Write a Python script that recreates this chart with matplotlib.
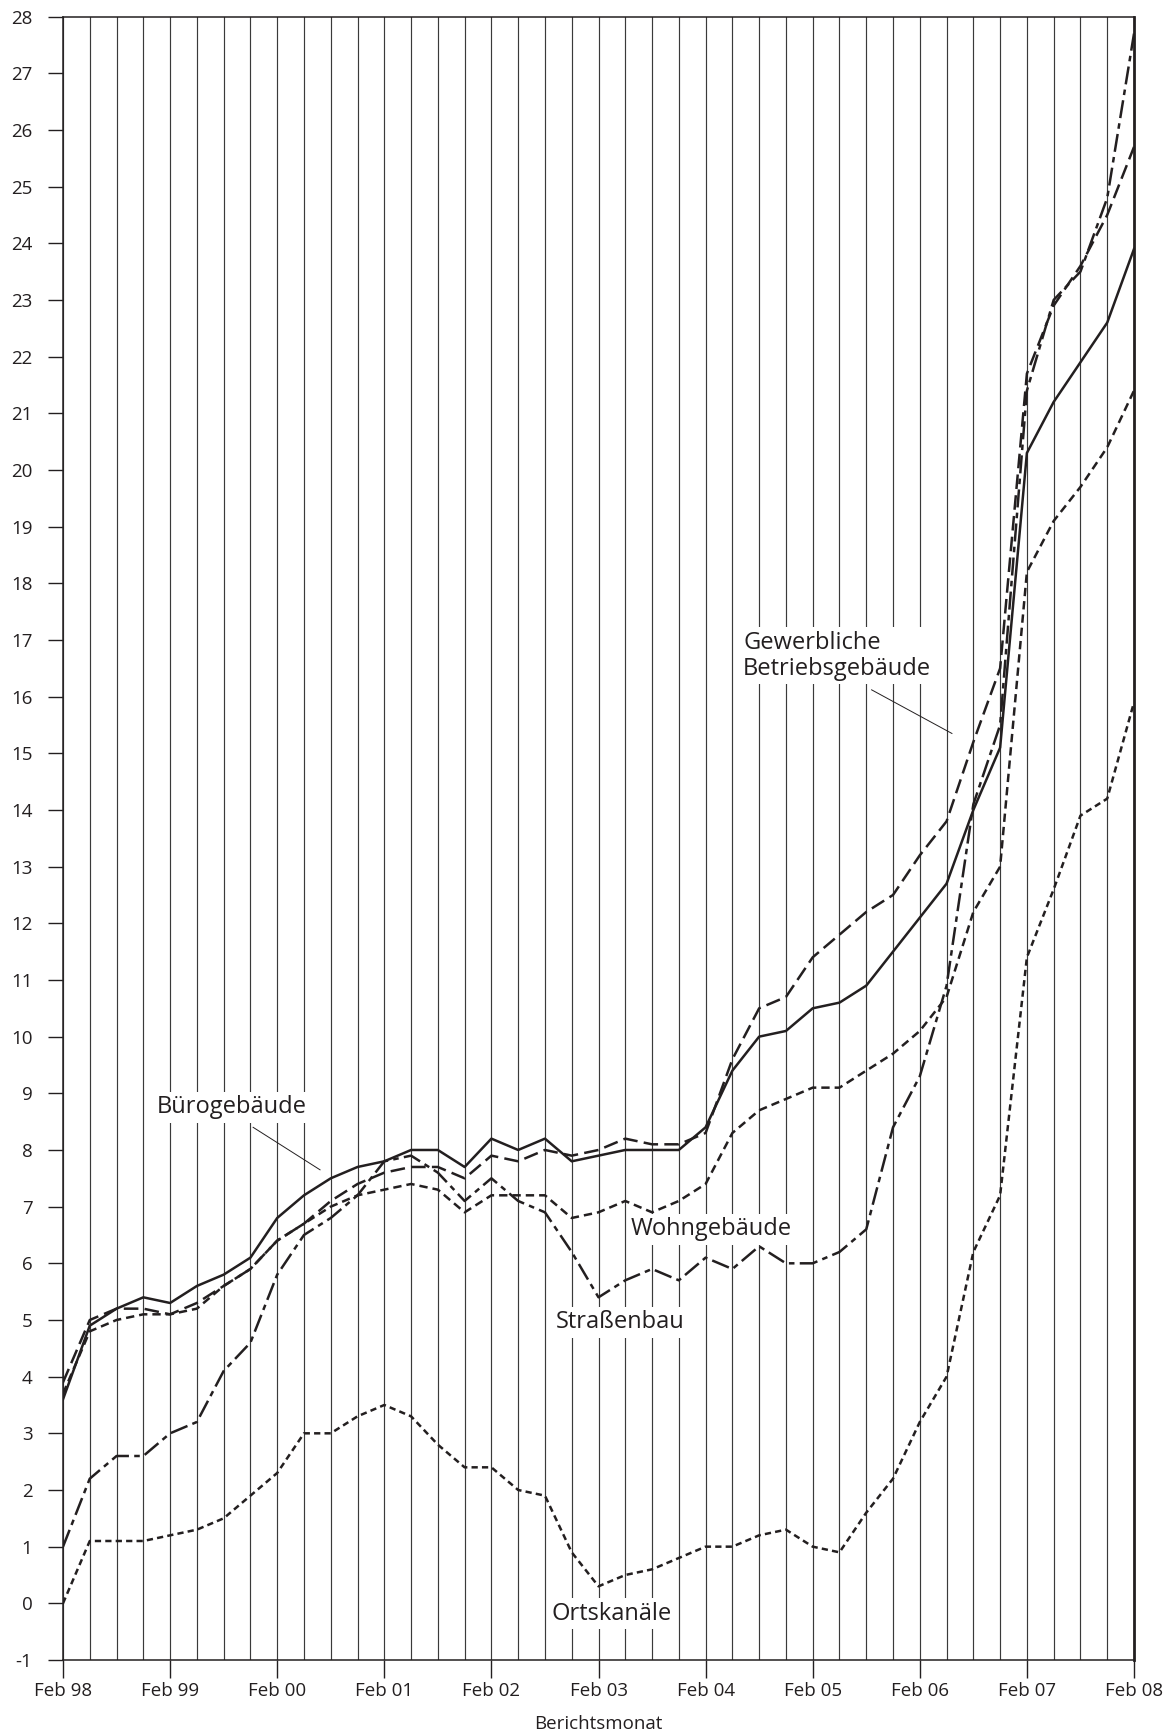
import matplotlib
matplotlib.use("Agg")
import matplotlib.pyplot as plt

plt.rcParams['font.family'] = ['Open Sans', 'DejaVu Sans']
plt.rcParams['axes.unicode_minus'] = False
plt.rcParams['lines.scale_dashes'] = False

# ---------------- data ----------------
year_labels = ['Feb 98', 'Feb 99', 'Feb 00', 'Feb 01', 'Feb 02', 'Feb 03',
               'Feb 04', 'Feb 05', 'Feb 06', 'Feb 07', 'Feb 08']
quarters = list(range(41))  # quarterly reporting months Feb 98 ... Feb 08

buero = [3.6, 4.9, 5.2, 5.4, 5.3, 5.6, 5.8, 6.1, 6.8, 7.2, 7.5, 7.7, 7.8, 8.0,
         8.0, 7.7, 8.2, 8.0, 8.2, 7.8, 7.9, 8.0, 8.0, 8.0, 8.4, 9.4, 10.0, 10.1,
         10.5, 10.6, 10.9, 11.5, 12.1, 12.7, 14.0, 15.1, 20.3, 21.2, 21.9, 22.6, 23.9]

gewerbe = [3.9, 5.0, 5.2, 5.2, 5.1, 5.3, 5.6, 5.9, 6.4, 6.7, 7.1, 7.4, 7.6, 7.7,
           7.7, 7.5, 7.9, 7.8, 8.0, 7.9, 8.0, 8.2, 8.1, 8.1, 8.3, 9.6, 10.5, 10.7,
           11.4, 11.8, 12.2, 12.5, 13.2, 13.8, 15.2, 16.5, 21.7, 22.9, 23.6, 24.5, 25.7]

wohn = [3.7, 4.8, 5.0, 5.1, 5.1, 5.2, 5.6, 5.9, 6.4, 6.7, 7.0, 7.2, 7.3, 7.4,
        7.3, 6.9, 7.2, 7.2, 7.2, 6.8, 6.9, 7.1, 6.9, 7.1, 7.4, 8.3, 8.7, 8.9,
        9.1, 9.1, 9.4, 9.7, 10.1, 10.7, 12.2, 13.0, 18.2, 19.1, 19.7, 20.4, 21.4]

strasse = [1.0, 2.2, 2.6, 2.6, 3.0, 3.2, 4.1, 4.6, 5.8, 6.5, 6.8, 7.2, 7.8, 7.9,
           7.6, 7.1, 7.5, 7.1, 6.9, 6.2, 5.4, 5.7, 5.9, 5.7, 6.1, 5.9, 6.3, 6.0,
           6.0, 6.2, 6.6, 8.4, 9.3, 10.9, 14.1, 15.5, 21.4, 23.0, 23.5, 24.8, 27.7]

kanal = [0.0, 1.1, 1.1, 1.1, 1.2, 1.3, 1.5, 1.9, 2.3, 3.0, 3.0, 3.3, 3.5, 3.3,
         2.8, 2.4, 2.4, 2.0, 1.9, 0.9, 0.3, 0.5, 0.6, 0.8, 1.0, 1.0, 1.2, 1.3,
         1.0, 0.9, 1.6, 2.2, 3.2, 4.0, 6.2, 7.2, 11.4, 12.6, 13.9, 14.2, 15.9]

# ---------------- figure ----------------
W, H = 1174, 1735
fig = plt.figure(figsize=(W / 100, H / 100), dpi=100)
x0, x1 = 63, 1134
ytop, ybot = 16.6, 1660
ax = fig.add_axes([x0 / W, 1 - ybot / H, (x1 - x0) / W, (ybot - ytop) / H])

ax.set_xlim(0, 40)
ax.set_ylim(-1, 28)

ink = '#231f20'
lw = 1.8

ax.plot(quarters, buero, color=ink, lw=lw, ls='-', zorder=5)
ax.plot(quarters, gewerbe, color=ink, lw=lw, ls=(0, (10.5, 4.5)), zorder=5)
ax.plot(quarters, wohn, color=ink, lw=lw, ls=(0, (6.0, 3.6)), zorder=5)
ax.plot(quarters, strasse, color=ink, lw=lw, ls=(0, (13.0, 3.8, 4.0, 3.8)), zorder=5)
ax.plot(quarters, kanal, color=ink, lw=lw, ls=(0, (4.5, 3.0)), zorder=5)

# ticks & grid
ax.set_xticks(quarters[::4])
ax.set_xticklabels(year_labels)
ax.set_xticks(quarters, minor=True)
ax.set_yticks(range(-1, 29))
ax.set_yticklabels([str(v) for v in range(-1, 29)])
ax.grid(axis='x', which='both', color='#3a3a3a', lw=0.85, zorder=1)
ax.set_axisbelow(True)
ax.tick_params(axis='x', which='major', length=13, width=1.0, pad=3,
               labelsize=13.5, color=ink, labelcolor=ink)
ax.tick_params(axis='x', which='minor', length=0)
ax.tick_params(axis='y', length=11, width=1.0, pad=11, labelsize=13.5,
               color=ink, labelcolor=ink)

for side in ['left', 'bottom', 'top']:
    ax.spines[side].set_color(ink)
    ax.spines[side].set_linewidth(1.1)
ax.spines['right'].set_color(ink)
ax.spines['right'].set_linewidth(2.0)

# labels
box = dict(facecolor='white', edgecolor='none', pad=2.5)
fs = 17
ax.text(6.3, 8.75, 'Bürogebäude', ha='center', va='center', fontsize=fs,
        color=ink, bbox=box, zorder=3)
ax.plot([7.1, 9.6], [8.4, 7.65], color=ink, lw=0.7, zorder=4)

ax.text(24.2, 6.6, 'Wohngebäude', ha='center', va='center', fontsize=fs,
        color=ink, bbox=box, zorder=3)
ax.text(20.8, 4.96, 'Straßenbau', ha='center', va='center', fontsize=fs,
        color=ink, bbox=box, zorder=3)
ax.text(20.5, -0.18, 'Ortskanäle', ha='center', va='center', fontsize=fs,
        color=ink, bbox=box, zorder=3)
ax.text(25.4, 16.72, 'Gewerbliche\nBetriebsgebäude', ha='left', va='center',
        fontsize=fs, color=ink, bbox=box, zorder=3, linespacing=1.12)
ax.plot([30.2, 33.2], [16.12, 15.35], color=ink, lw=0.7, zorder=4)

fig.text((x0 + x1) / 2 / W, 1 - 1724 / H, 'Berichtsmonat', ha='center',
         va='center', fontsize=13.5, color=ink)

fig.savefig('out.png', dpi=100, facecolor='white')
